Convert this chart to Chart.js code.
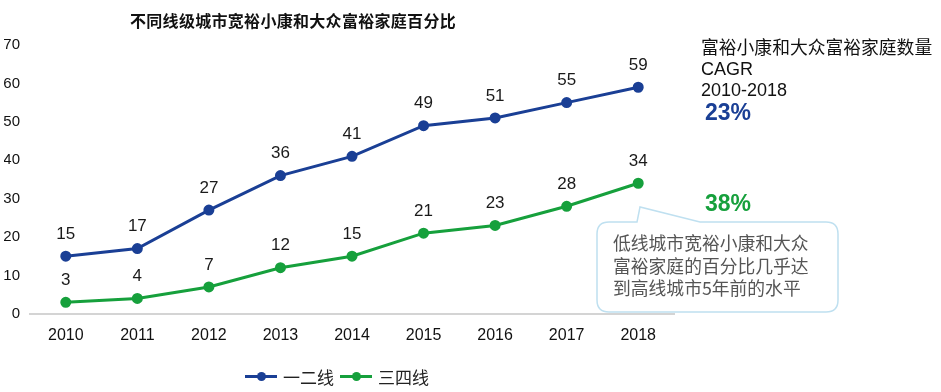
<!DOCTYPE html>
<html>
<head>
<meta charset="utf-8">
<script src="https://cdn.jsdelivr.net/npm/chart.js@4"></script>
<style>
  body { margin: 0; background: #fff; font-family: "Noto Sans CJK SC", "Liberation Sans", sans-serif; }
  #wrap { position: relative; width: 941px; height: 392px; overflow: hidden; }
  #c { position: absolute; left: 0; top: 0; }
  .txt { position: absolute; white-space: nowrap; color: #111; }
  #title { left: 130px; top: 8px; font-size: 16px; font-weight: bold; letter-spacing: 0.3px; }
  #note { left: 701px; top: 36px; font-size: 18px; line-height: 21px; font-family: "Liberation Sans", "Noto Sans CJK SC", sans-serif; }
  #note .cn { font-family: "Noto Sans CJK SC", sans-serif; font-size: 17.8px; }
  #g1 { left: 705px; top: 99px; font-size: 23px; font-weight: bold; color: #1a3f95; font-family: "Liberation Sans", sans-serif; }
  #g2 { left: 705px; top: 190px; font-size: 23px; font-weight: bold; color: #16a03c; font-family: "Liberation Sans", sans-serif; }
  #callout { position: absolute; left: 0; top: 0; }
  #ctext { left: 613px; top: 231px; font-size: 17.8px; line-height: 22.5px; color: #555; }
  #legend { position: absolute; left: 245px; top: 364px; font-size: 17px; color: #222; display: flex; align-items: center; }
  .item { display: flex; align-items: center; margin-right: 6px; }
  .mk { position: relative; width: 32px; height: 3px; margin-right: 6px; }
  .mk i { position: absolute; left: 12px; top: -3px; width: 9px; height: 9px; border-radius: 50%; }
</style>
</head>
<body>
<div id="wrap">
  <canvas id="c" width="941" height="392"></canvas>
  <svg id="callout" width="941" height="392">
    <path d="M609,222 L637,222 L640,207 L700,222 L826,222 Q838,222 838,234 L838,300 Q838,312 826,312 L609,312 Q597,312 597,300 L597,234 Q597,222 609,222 Z"
          fill="#fff" stroke="#bfe0f0" stroke-width="1.5"/>
  </svg>
  <div class="txt" id="title">不同线级城市宽裕小康和大众富裕家庭百分比</div>
  <div class="txt" id="note"><span class="cn">富裕小康和大众富裕家庭数量</span><br>CAGR<br>2010-2018</div>
  <div class="txt" id="g1">23%</div>
  <div class="txt" id="g2">38%</div>
  <div class="txt" id="ctext">低线城市宽裕小康和大众<br>富裕家庭的百分比几乎达<br>到高线城市5年前的水平</div>
  <div id="legend">
    <div class="item"><span class="mk" style="background:#1a3f95"><i style="background:#1a3f95"></i></span>一二线</div>
    <div class="item"><span class="mk" style="background:#16a03c"><i style="background:#16a03c"></i></span>三四线</div>
  </div>
</div>
<script>
const years = ['2010', '2011', '2012', '2013', '2014', '2015', '2016', '2017', '2018'];
const tier12 = [15, 17, 27, 36, 41, 49, 51, 55, 59];
const tier34 = [3, 4, 7, 12, 15, 21, 23, 28, 34];
const seriesNames = ['一二线', '三四线'];

const valueLabels = {
    id: 'valueLabels',
    afterDatasetsDraw(chart) {
        const ctx = chart.ctx;
        ctx.save();
        ctx.font = '17px "Liberation Sans", Arial, sans-serif';
        ctx.fillStyle = '#1a1a1a';
        ctx.textAlign = 'center';
        ctx.textBaseline = 'middle';
        chart.data.datasets.forEach(function (ds, i) {
            chart.getDatasetMeta(i).data.forEach(function (pt, j) {
                ctx.fillText(ds.data[j], pt.x, pt.y - 22);
            });
        });
        ctx.restore();
    }
};

const ctx = document.getElementById('c').getContext('2d');
new Chart(ctx, {
    type: 'line',
    data: {
        labels: years,
        datasets: [{
            label: seriesNames[0],
            data: tier12,
            borderColor: '#1a3f95',
            backgroundColor: '#1a3f95',
            borderWidth: 3,
            pointRadius: 4,
            pointHoverRadius: 4
        }, {
            label: seriesNames[1],
            data: tier34,
            borderColor: '#16a03c',
            backgroundColor: '#16a03c',
            borderWidth: 3,
            pointRadius: 4,
            pointHoverRadius: 4
        }]
    },
    options: {
        responsive: false,
        animation: false,
        layout: { padding: { left: 4, right: 267, top: 45, bottom: 35 } },
        plugins: {
            legend: { display: false },
            tooltip: { enabled: false }
        },
        scales: {
            x: {
                offset: true,
                grid: { display: false, drawTicks: false },
                border: { display: true, color: '#d4d4d4', width: 2 },
                ticks: {
                    padding: 12,
                    color: '#111',
                    font: { size: 16, family: '"Liberation Sans", sans-serif' }
                }
            },
            y: {
                min: 0,
                max: 70,
                grid: { display: false, drawTicks: false },
                border: { display: false },
                afterFit: function (scale) { scale.width = 26; },
                ticks: {
                    stepSize: 10,
                    padding: 10,
                    color: '#111',
                    font: { size: 15, family: '"Liberation Sans", sans-serif' }
                }
            }
        }
    },
    plugins: [valueLabels]
});
</script>
</body>
</html>
